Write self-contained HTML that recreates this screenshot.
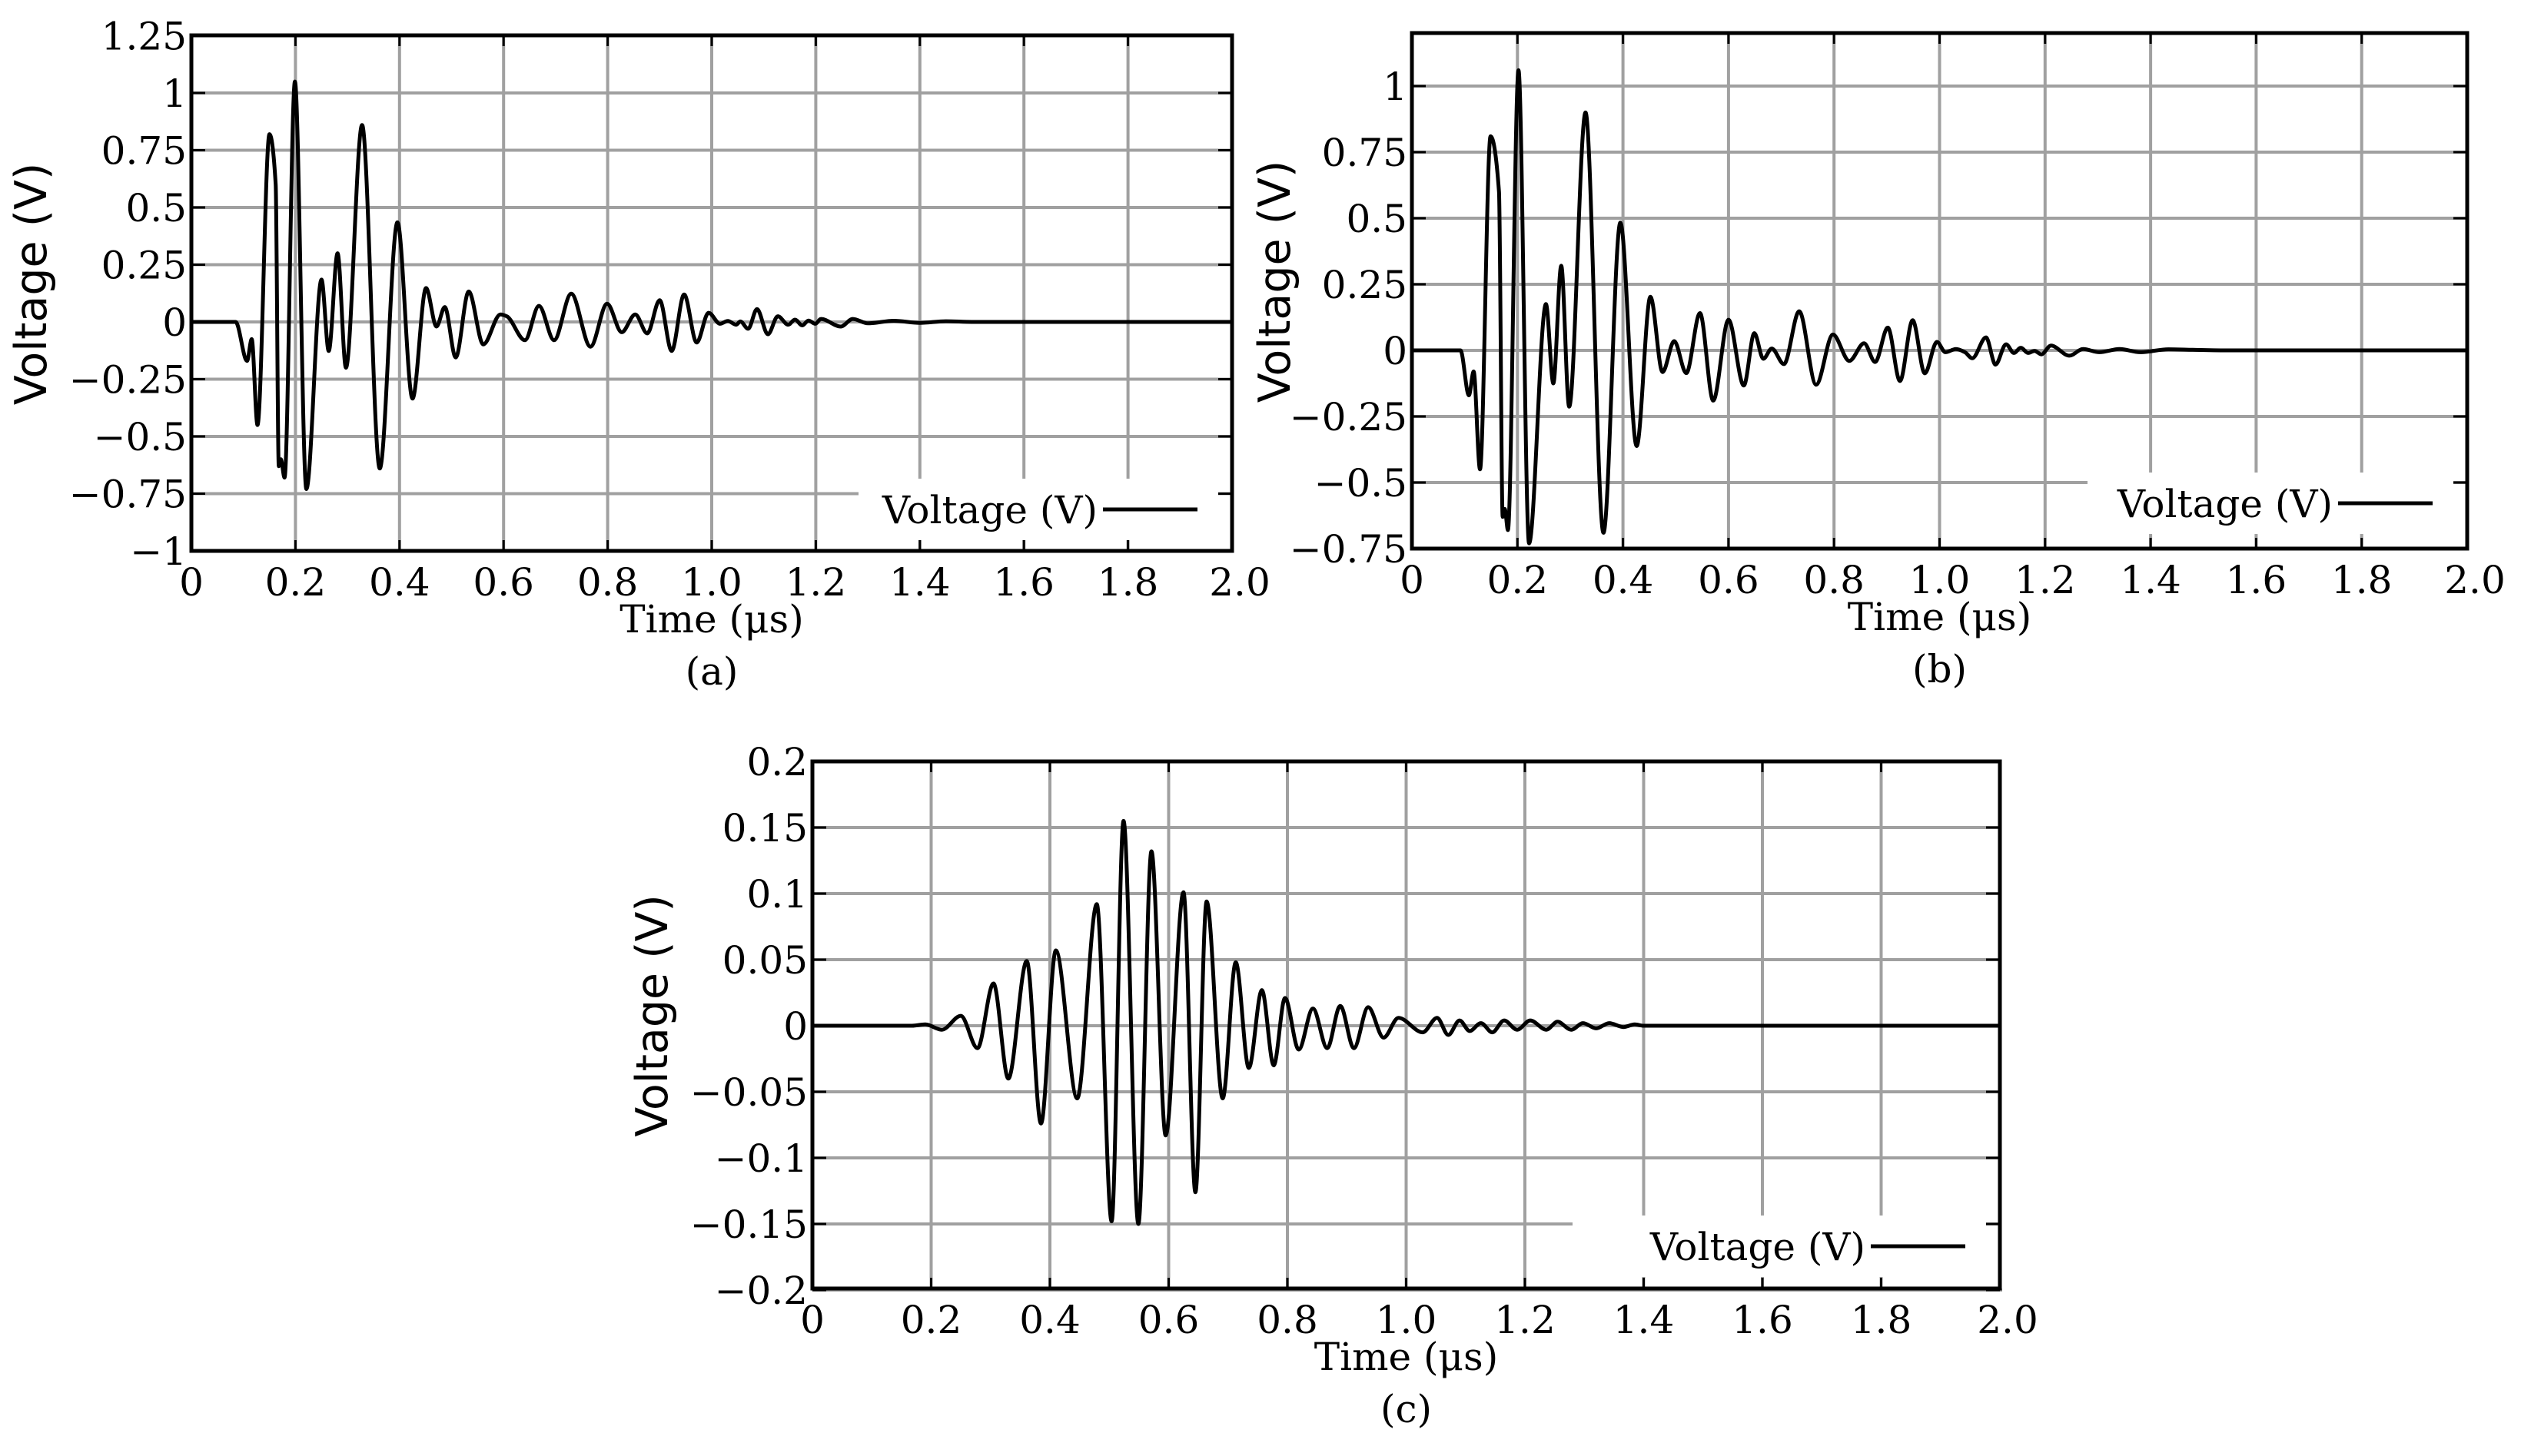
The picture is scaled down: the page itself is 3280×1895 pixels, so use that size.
<!DOCTYPE html>
<html><head><meta charset="utf-8">
<style>
html,body{margin:0;padding:0;background:#fff;}
svg{display:block;}
text{font-family:"DejaVu Serif","Liberation Serif",serif;fill:#000;}
.ylab{font-family:"DejaVu Sans","Liberation Sans",sans-serif;}
</style></head>
<body>
<svg id="fig" width="3280" height="1895" viewBox="0 0 3280 1895" xmlns="http://www.w3.org/2000/svg"></svg>
<script>
// ---- data (time in µs, voltage in V) ----
const xTicks = [0,0.2,0.4,0.6,0.8,1.0,1.2,1.4,1.6,1.8,2.0];
const xTickLabels = ["0","0.2","0.4","0.6","0.8","1.0","1.2","1.4","1.6","1.8","2.0"];
const yTicksA = [1.25,1,0.75,0.5,0.25,0,-0.25,-0.5,-0.75,-1];
const yTickLabelsA = ["1.25","1","0.75","0.5","0.25","0","\u22120.25","\u22120.5","\u22120.75","\u22121"];
const yTicksB = [1,0.75,0.5,0.25,0,-0.25,-0.5,-0.75];
const yTickLabelsB = ["1","0.75","0.5","0.25","0","\u22120.25","\u22120.5","\u22120.75"];
const yTicksC = [0.2,0.15,0.1,0.05,0,-0.05,-0.1,-0.15,-0.2];
const yTickLabelsC = ["0.2","0.15","0.1","0.05","0","\u22120.05","\u22120.1","\u22120.15","\u22120.2"];

const timeA = [0,0.085,0.107,0.116,0.127,0.150,0.162,0.168,0.172,0.179,0.199,0.221,0.25,0.264,0.281,0.297,0.328,0.362,0.396,0.425,0.451,0.471,0.487,0.508,0.533,0.561,0.594,0.606,0.641,0.668,0.697,0.73,0.767,0.799,0.827,0.853,0.876,0.9,0.923,0.947,0.971,0.994,1.016,1.031,1.047,1.055,1.07,1.087,1.108,1.127,1.147,1.16,1.174,1.186,1.199,1.21,1.248,1.271,1.30,1.35,1.40,1.45,1.5,2.0];
const voltA = [0,0,-0.17,-0.075,-0.45,0.82,0.6,-0.63,-0.6,-0.68,1.05,-0.73,0.185,-0.127,0.30,-0.20,0.86,-0.64,0.435,-0.335,0.148,-0.02,0.065,-0.155,0.133,-0.098,0.033,0.025,-0.08,0.07,-0.08,0.123,-0.108,0.08,-0.045,0.033,-0.05,0.095,-0.127,0.12,-0.09,0.04,-0.008,0.004,-0.012,0.002,-0.03,0.056,-0.054,0.025,-0.012,0.01,-0.015,0.006,-0.008,0.013,-0.02,0.013,-0.006,0.005,-0.004,0.003,0,0];

const timeB = [0,0.092,0.108,0.117,0.129,0.149,0.165,0.172,0.176,0.182,0.202,0.222,0.254,0.268,0.283,0.298,0.329,0.363,0.395,0.426,0.452,0.475,0.497,0.52,0.546,0.571,0.6,0.629,0.649,0.666,0.682,0.705,0.734,0.766,0.798,0.829,0.857,0.878,0.902,0.925,0.949,0.972,0.995,1.011,1.031,1.048,1.062,1.088,1.106,1.126,1.141,1.154,1.168,1.18,1.193,1.211,1.246,1.272,1.303,1.341,1.38,1.434,1.48,1.55,2.0];
const voltB = [0,0,-0.17,-0.08,-0.45,0.81,0.6,-0.63,-0.6,-0.68,1.06,-0.73,0.175,-0.125,0.32,-0.213,0.90,-0.69,0.483,-0.362,0.203,-0.082,0.035,-0.086,0.141,-0.19,0.116,-0.133,0.065,-0.032,0.007,-0.052,0.148,-0.13,0.06,-0.04,0.027,-0.044,0.086,-0.116,0.114,-0.087,0.032,-0.007,0.005,-0.007,-0.03,0.049,-0.054,0.023,-0.01,0.01,-0.01,-0.002,-0.015,0.018,-0.02,0.005,-0.007,0.005,-0.007,0.004,0.002,0,0];

const timeC = [0,0.168,0.19,0.218,0.25,0.278,0.305,0.33,0.361,0.385,0.41,0.446,0.479,0.504,0.524,0.549,0.571,0.595,0.625,0.645,0.664,0.691,0.713,0.735,0.757,0.777,0.796,0.819,0.843,0.867,0.889,0.912,0.936,0.962,0.987,1.028,1.052,1.071,1.09,1.107,1.126,1.145,1.165,1.187,1.209,1.236,1.255,1.278,1.298,1.32,1.342,1.366,1.385,1.40,2.0];
const voltC = [0,0,0.001,-0.003,0.0075,-0.017,0.032,-0.04,0.049,-0.074,0.057,-0.055,0.092,-0.148,0.155,-0.15,0.132,-0.083,0.101,-0.126,0.094,-0.055,0.048,-0.032,0.027,-0.03,0.021,-0.018,0.013,-0.017,0.015,-0.017,0.014,-0.009,0.006,-0.005,0.006,-0.007,0.004,-0.004,0.002,-0.005,0.004,-0.003,0.004,-0.003,0.003,-0.003,0.002,-0.002,0.002,-0.001,0.001,0,0];

const NS = "http://www.w3.org/2000/svg";
const svg = document.getElementById("fig");
function mk(tag, attrs, parent){
  const e = document.createElementNS(NS, tag);
  for (const k in attrs) e.setAttribute(k, attrs[k]);
  (parent||svg).appendChild(e);
  return e;
}

function monoPath(px, py){
  const n = px.length, dx=[], m=[], t=new Array(n);
  for (let i=0;i<n-1;i++){ dx[i]=px[i+1]-px[i]; m[i]=(py[i+1]-py[i])/dx[i]; }
  t[0]=m[0]; t[n-1]=m[n-2];
  for (let i=1;i<n-1;i++){
    if (m[i-1]*m[i] <= 0) t[i]=0;
    else { const w1=2*dx[i]+dx[i-1], w2=dx[i]+2*dx[i-1]; t[i]=(w1+w2)/(w1/m[i-1]+w2/m[i]); }
  }
  let d = "M"+px[0].toFixed(1)+","+py[0].toFixed(1);
  for (let i=0;i<n-1;i++){
    const h=dx[i]/3;
    d += " C"+(px[i]+h).toFixed(1)+","+(py[i]+t[i]*h).toFixed(1)+" "+(px[i+1]-h).toFixed(1)+","+(py[i+1]-t[i+1]*h).toFixed(1)+" "+px[i+1].toFixed(1)+","+py[i+1].toFixed(1);
  }
  return d;
}

function panel(cfg){
  const g = mk("g", {});
  
  
  const X = t => cfg.x0 + (t - 0) / 2.0 * (cfg.x1 - cfg.x0);
  const Y = v => cfg.yZero - v * cfg.ppu;
  const grid = mk("g", {stroke:"#a0a0a0","stroke-width":4}, g);
  
  
  xTicks.forEach(t => { mk("line",{x1:X(t),x2:X(t),y1:cfg.yTop,y2:cfg.yBot},grid); });
  cfg.yTicks.forEach(v => { const y = Y(v); if (y>=cfg.yTop-1 && y<=cfg.yBot+12) mk("line",{x1:cfg.x0,x2:cfg.x1+(y>cfg.yBot?3:0),y1:y,y2:y},grid); });
  const px = cfg.time.map(X), py = cfg.volt.map(Y);
  const curve = mk("path",{d:monoPath(px,py),fill:"none",stroke:"#000","stroke-width":5,"stroke-linejoin":"round"},g);
  
  
  const lg = mk("g",{},g);
  
  
  mk("rect",{x:cfg.legX,y:cfg.legY,width:cfg.x1-18-cfg.legX,height:80,fill:"#fff"},lg);
  const lt = mk("text",{x:cfg.x1-175,y:cfg.legY+58,"font-size":50,"text-anchor":"end"},lg);
  lt.textContent = "Voltage (V)";
  
  
  mk("line",{x1:cfg.x1-168,x2:cfg.x1-45,y1:cfg.legY+40,y2:cfg.legY+40,stroke:"#000","stroke-width":5},lg);
  const tk = mk("g",{stroke:"#000","stroke-width":3},g);
  
  
  xTicks.forEach(t => { mk("line",{x1:X(t),x2:X(t),y1:cfg.yBot,y2:cfg.yBot-14},tk); mk("line",{x1:X(t),x2:X(t),y1:cfg.yTop,y2:cfg.yTop+14},tk); });
  cfg.yTicks.forEach(v => { const y=Y(v); if (y<=cfg.yBot+12){ mk("line",{x1:cfg.x0,x2:cfg.x0+18,y1:y,y2:y},tk); mk("line",{x1:cfg.x1,x2:cfg.x1-18,y1:y,y2:y},tk);} });
  const fr = mk("rect",{x:cfg.x0,y:cfg.yTop,width:cfg.x1-cfg.x0,height:cfg.yBot-cfg.yTop,fill:"none",stroke:"#000","stroke-width":5},g);
  
  
  xTicks.forEach((t,i) => {
    const e = mk("text",{x:X(t)+(i===10?10:0),y:cfg.yBot+58,"font-size":50,"text-anchor":"middle"},g);
    e.textContent = xTickLabels[i];
    
    
  });
  cfg.yTicks.forEach((v,i) => {
    const e = mk("text",{x:cfg.x0-6,y:Y(v)+18,"font-size":50,"text-anchor":"end"},g);
    e.textContent = cfg.yLabels[i];
    
    
  });
  const cx = (cfg.x0+cfg.x1)/2;
  const xt = mk("text",{x:cx,y:cfg.yBot+106,"font-size":50,"text-anchor":"middle"},g);
  xt.textContent = "Time (\u03bcs)";
  
  
  const cap = mk("text",{x:cx,y:cfg.yBot+174,"font-size":50,"text-anchor":"middle"},g);
  cap.textContent = "(" + cfg.id + ")";
  
  
  const cy = (cfg.yTop+cfg.yBot)/2 - 12;
  const yt = mk("text",{x:cfg.ylx,y:cy,"font-size":57,"text-anchor":"middle","class":"ylab",transform:"rotate(-90 "+cfg.ylx+" "+cy+")"},g);
  yt.textContent = "Voltage (V)";
  
  
}

panel({id:"a",x0:249,x1:1603,yTop:46,yBot:717,yZero:419,ppu:298,yTicks:yTicksA,yLabels:yTickLabelsA,time:timeA,volt:voltA,legX:1117,legY:623,ylx:60});
panel({id:"b",x0:1837,x1:3210,yTop:43,yBot:714,yZero:456,ppu:344,yTicks:yTicksB,yLabels:yTickLabelsB,time:timeB,volt:voltB,legX:2716,legY:615,ylx:1678});
panel({id:"c",x0:1057,x1:2602,yTop:991,yBot:1677,yZero:1335,ppu:1720,yTicks:yTicksC,yLabels:yTickLabelsC,time:timeC,volt:voltC,legX:2046,legY:1582,ylx:868});
</script>
</body></html>
